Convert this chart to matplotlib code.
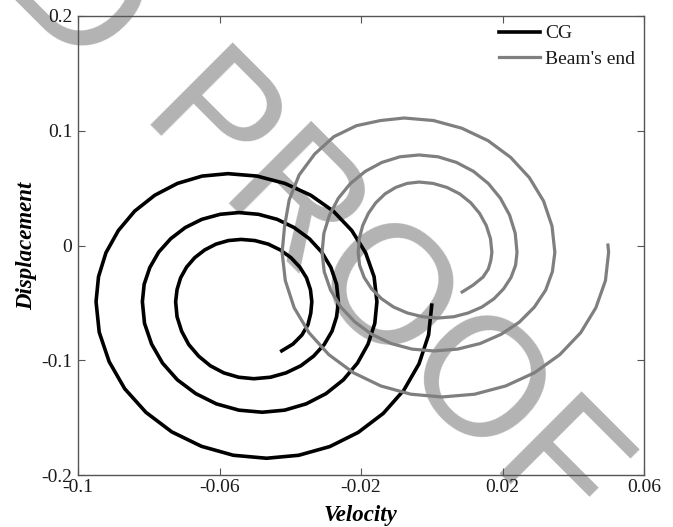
import matplotlib
matplotlib.use("Agg")
import matplotlib.pyplot as plt

# ---------------- data ----------------
cg_x = [-0.0424, -0.0392, -0.0367, -0.0350, -0.0342, -0.0339,
        -0.0343, -0.0354, -0.0373, -0.0398, -0.0428, -0.0462, -0.0500, -0.0539,
        -0.0575, -0.0610, -0.0642, -0.0670, -0.0693, -0.0710, -0.0720, -0.0724,
        -0.0720, -0.0707, -0.0687, -0.0659, -0.0626, -0.0588, -0.0546, -0.0503,
        -0.0456, -0.0412, -0.0370, -0.0334, -0.0304, -0.0282, -0.0269, -0.0264,
        -0.0269, -0.0285, -0.0311, -0.0346, -0.0389, -0.0437, -0.0490, -0.0545,
        -0.0598, -0.0650, -0.0697, -0.0738, -0.0772, -0.0797, -0.0813, -0.0818,
        -0.0812, -0.0792, -0.0761, -0.0719, -0.0667, -0.0609, -0.0545, -0.0479,
        -0.0416, -0.0355, -0.0299, -0.0250, -0.0210, -0.0180, -0.0161, -0.0155,
        -0.0163, -0.0187, -0.0226, -0.0278, -0.0342, -0.0415, -0.0494, -0.0576,
        -0.0649, -0.0719, -0.0783, -0.0840, -0.0886, -0.0921, -0.0942, -0.0949,
        -0.0940, -0.0912, -0.0868, -0.0808, -0.0735, -0.0651, -0.0561, -0.0467,
        -0.0376, -0.0288, -0.0208, -0.0137, -0.0079, -0.0036, -0.0009, 0.0000]
cg_y = [-0.0918, -0.0858, -0.0780, -0.0690, -0.0590, -0.0490,
        -0.0384, -0.0282, -0.0188, -0.0106, -0.0039, 0.0012, 0.0043, 0.0053,
        0.0043, 0.0012, -0.0039, -0.0106, -0.0188, -0.0282, -0.0384, -0.0490,
        -0.0621, -0.0747, -0.0863, -0.0964, -0.1048, -0.1110, -0.1148, -0.1161,
        -0.1148, -0.1110, -0.1048, -0.0964, -0.0863, -0.0747, -0.0621, -0.0490,
        -0.0338, -0.0192, -0.0058, 0.0059, 0.0156, 0.0228, 0.0272, 0.0287,
        0.0272, 0.0228, 0.0156, 0.0059, -0.0058, -0.0192, -0.0338, -0.0490,
        -0.0678, -0.0859, -0.1025, -0.1171, -0.1291, -0.1380, -0.1435, -0.1453,
        -0.1435, -0.1380, -0.1291, -0.1171, -0.1025, -0.0859, -0.0678, -0.0490,
        -0.0272, -0.0063, 0.0130, 0.0299, 0.0438, 0.0541, 0.0605, 0.0626,
        0.0605, 0.0541, 0.0438, 0.0299, 0.0130, -0.0063, -0.0272, -0.0490,
        -0.0756, -0.1012, -0.1248, -0.1454, -0.1624, -0.1750, -0.1828, -0.1854,
        -0.1828, -0.1752, -0.1629, -0.1463, -0.1261, -0.1031, -0.0780, -0.0520]

beam_x = [0.0086, 0.0117, 0.0145, 0.0160, 0.0167, 0.0170,
          0.0166, 0.0154, 0.0135, 0.0110, 0.0079, 0.0043, 0.0004, -0.0036,
          -0.0070, -0.0102, -0.0132, -0.0158, -0.0179, -0.0195, -0.0205, -0.0208,
          -0.0204, -0.0191, -0.0170, -0.0142, -0.0108, -0.0069, -0.0026, 0.0018,
          0.0062, 0.0103, 0.0142, 0.0176, 0.0203, 0.0224, 0.0237, 0.0241,
          0.0236, 0.0220, 0.0194, 0.0160, 0.0118, 0.0070, 0.0018, -0.0036,
          -0.0090, -0.0141, -0.0188, -0.0230, -0.0264, -0.0289, -0.0305, -0.0310,
          -0.0304, -0.0286, -0.0257, -0.0217, -0.0170, -0.0115, -0.0056, 0.0006,
          0.0073, 0.0137, 0.0196, 0.0248, 0.0290, 0.0322, 0.0341, 0.0348,
          0.0340, 0.0316, 0.0276, 0.0223, 0.0159, 0.0085, 0.0005, -0.0078,
          -0.0145, -0.0213, -0.0277, -0.0331, -0.0375, -0.0403, -0.0416, -0.0423,
          -0.0414, -0.0389, -0.0347, -0.0291, -0.0222, -0.0144, -0.0059, 0.0029,
          0.0121, 0.0209, 0.0291, 0.0362, 0.0421, 0.0464, 0.0491, 0.0500, 0.0498]
beam_y = [-0.0405, -0.0345, -0.0275, -0.0205, -0.0130, -0.0060,
          0.0060, 0.0175, 0.0281, 0.0373, 0.0450, 0.0506, 0.0541, 0.0553,
          0.0541, 0.0506, 0.0450, 0.0373, 0.0281, 0.0175, 0.0060, -0.0060,
          -0.0172, -0.0279, -0.0378, -0.0464, -0.0536, -0.0588, -0.0621, -0.0632,
          -0.0621, -0.0588, -0.0536, -0.0464, -0.0378, -0.0279, -0.0172, -0.0060,
          0.0106, 0.0265, 0.0412, 0.0540, 0.0646, 0.0724, 0.0773, 0.0789,
          0.0773, 0.0724, 0.0646, 0.0540, 0.0412, 0.0265, 0.0106, -0.0060,
          -0.0228, -0.0389, -0.0537, -0.0667, -0.0774, -0.0854, -0.0903, -0.0919,
          -0.0903, -0.0854, -0.0774, -0.0667, -0.0537, -0.0389, -0.0228, -0.0060,
          0.0169, 0.0388, 0.0591, 0.0768, 0.0914, 0.1022, 0.1089, 0.1111,
          0.1089, 0.1044, 0.0948, 0.0797, 0.0614, 0.0397, 0.0169, -0.0060,
          -0.0306, -0.0542, -0.0760, -0.0951, -0.1108, -0.1224, -0.1296, -0.1320,
          -0.1296, -0.1224, -0.1108, -0.0951, -0.0760, -0.0542, -0.0306, -0.0060, 0.0004]

x_ticks = [-0.1, -0.06, -0.02, 0.02, 0.06]
x_tick_labels = ['-0.1', '-0.06', '-0.02', '0.02', '0.06']
y_ticks = [-0.2, -0.1, 0.0, 0.1, 0.2]
y_tick_labels = ['-0.2', '-0.1', '0', '0.1', '0.2']
series_labels = ['CG', "Beam's end"]

# ---------------- figure ----------------
W, H = 673, 527
fig = plt.figure(figsize=(W / 100, H / 100), dpi=100)
serif = ['Liberation Serif', 'DejaVu Serif']

# watermark (behind the axes)
wm_kw = dict(rotation=-45, rotation_mode='anchor', va='baseline',
             fontsize=121, family=['Liberation Sans', 'DejaVu Sans'],
             color='#b3b3b3', zorder=-5)
fig.text(136 / W, 1 - 124 / H, 'PROOF', ha='left', **wm_kw)
fig.text(84 / W, 1 - 82 / H, 'UNCORRECTED', ha='right', **wm_kw)

ax = fig.add_axes([78 / W, 1 - 475 / H, 566 / W, 459 / H])
ax.set_facecolor('none')

ax.plot(cg_x, cg_y, color='black', lw=2.6, solid_joinstyle='round',
        label=series_labels[0], zorder=3)
ax.plot(beam_x, beam_y, color='#7f7f7f', lw=2.3, solid_joinstyle='round',
        label=series_labels[1], zorder=4)

ax.set_xlim(-0.1, 0.06)
ax.set_ylim(-0.2, 0.2)
ax.set_xticks(x_ticks)
ax.set_xticklabels(x_tick_labels, family=serif, fontsize=14, color='#1a1a1a')
ax.set_yticks(y_ticks)
ax.set_yticklabels(y_tick_labels, family=serif, fontsize=14, color='#1a1a1a')
ax.tick_params(direction='in', top=True, right=True, length=5, width=0.8,
               color='#555555')
ax.tick_params(axis='x', pad=3)
ax.tick_params(axis='y', pad=4)
for s in ax.spines.values():
    s.set_color('#555555')
    s.set_linewidth(1.0)

ax.set_xlabel('Velocity', family=serif, fontsize=16.5, fontweight='bold',
              fontstyle='italic', labelpad=6)
ax.set_ylabel('Displacement', family=serif, fontsize=16.5, fontweight='bold',
              fontstyle='italic', labelpad=3)

leg = ax.legend(loc='upper right', bbox_to_anchor=(1.0, 1.0), frameon=False,
                prop={'family': serif, 'size': 14}, handlelength=2.1,
                handletextpad=0.28, borderaxespad=0.2, borderpad=0.25,
                labelspacing=0.4)
for t in leg.get_texts():
    t.set_color('#1a1a1a')

fig.savefig('out.png', dpi=100)
